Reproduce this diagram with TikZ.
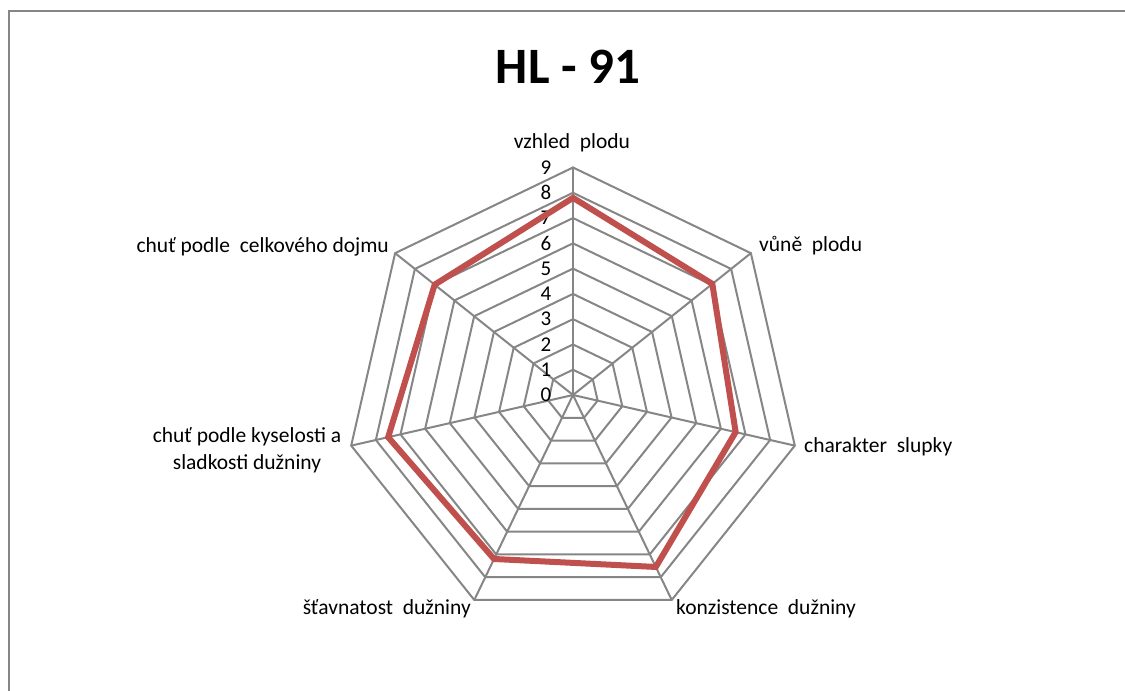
\documentclass[tikz,border=0pt]{standalone}
\usepackage{fontspec}
\setmainfont{Carlito}
\definecolor{gridgray}{RGB}{134,134,134}
\definecolor{seriesred}{RGB}{192,80,77}
\begin{document}
\begin{tikzpicture}[x=1pt,y=-1pt,
  gridline/.style={draw=gridgray,line width=2pt},
  series/.style={draw=seriesred,line width=6pt,line join=miter},
  lbl/.style={inner sep=0pt,font=\fontsize{21.5}{27}\selectfont},
  tick/.style={inner sep=0pt,font=\fontsize{21}{22}\selectfont},
  frame/.style={draw=gridgray,line width=2pt}]
\useasboundingbox (0,0) rectangle (1125,691);
\fill[white] (0,0) rectangle (1125,691);
\draw[frame] (8.5,691) -- (8.5,10.5) -- (1125,10.5);
% title
\node[inner sep=0pt,font=\fontsize{51}{56}\selectfont\bfseries] (title) at (568,67) {HL - 91};
% grid coordinates
\coordinate (c) at (573,395);
\foreach \k in {0,...,6}{
  \foreach \l in {1,...,9}{
    \coordinate (g\k-\l) at ({573+\l*25.28*sin(\k*360/7)},{395-\l*25.28*cos(\k*360/7)});
  }
}
\foreach \l in {1,...,9}
  \draw[gridline] (g0-\l) -- (g1-\l) -- (g2-\l) -- (g3-\l) -- (g4-\l) -- (g5-\l) -- (g6-\l) -- cycle;
\foreach \k in {0,...,6}
  \draw[gridline] (c) -- (g\k-9);
% tick labels
\foreach \l in {0,...,9}
  \node[tick] (n\l) at (546,{395-\l*25.28}) {\l};
% data
\foreach \k/\v in {0/7.8,1/7.05,2/6.6,3/7.55,4/7.2,5/7.5,6/7.0}
  \coordinate (p\k) at ({573+\v*25.28*sin(\k*360/7)},{395-\v*25.28*cos(\k*360/7)});
\draw[series] (p0) -- (p1) -- (p2) -- (p3) -- (p4) -- (p5) -- (p6) -- cycle;
% axis labels
\node[lbl] (a0) at (572,143) {vzhled\ \ plodu};
\node[lbl,anchor=west] (a1) at (759,246) {vůně\ \ plodu};
\node[lbl,anchor=west] (a2) at (804,447) {charakter\ \ slupky};
\node[lbl,anchor=west] (a3) at (676,609) {konzistence\ \ dužniny};
\node[lbl,anchor=east] (a4) at (471,609) {šťavnatost\ \ dužniny};
\node[lbl,align=center] (a5) at (247,450) {chuť podle kyselosti a\\sladkosti dužniny};
\node[lbl,anchor=east] (a6) at (389,247) {chuť podle\ \ celkového dojmu};
\end{tikzpicture}
\end{document}
